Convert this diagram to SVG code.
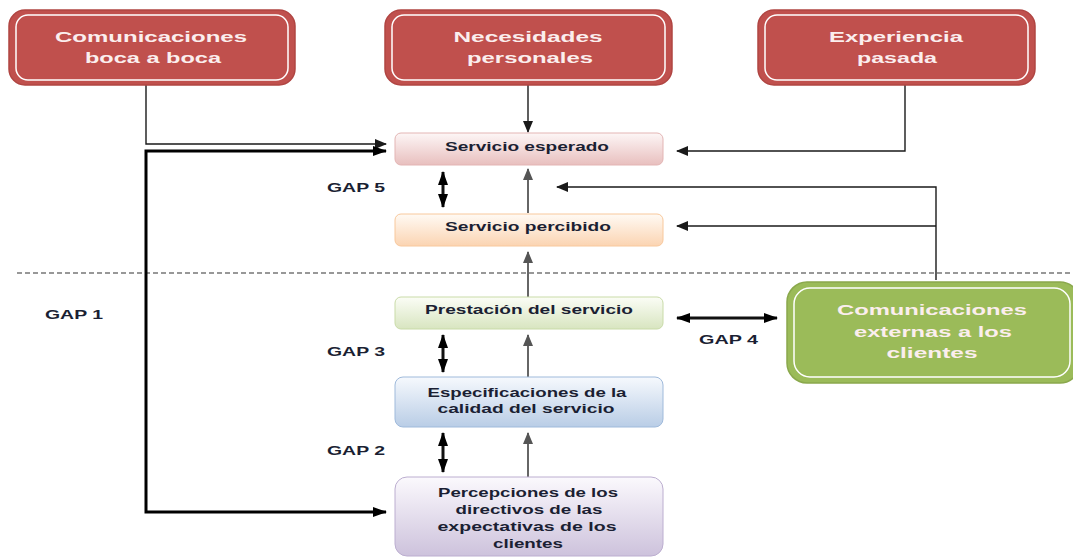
<svg xmlns="http://www.w3.org/2000/svg" width="1073" height="557" viewBox="0 0 1073 557">
<style>
.rb{fill:#c0504d;stroke:#b04542;stroke-width:1.5}
.ri{fill:none;stroke:#ffffff;stroke-width:1.5}
.rt{font-family:"Liberation Sans",Arial,sans-serif;font-weight:bold;font-size:15.5px;fill:#fbeeee;text-anchor:middle}
.mt{font-family:"Liberation Sans",Arial,sans-serif;font-weight:bold;font-size:13.5px;fill:#1b1f33;text-anchor:middle}
.gt{font-family:"Liberation Sans",Arial,sans-serif;font-weight:bold;font-size:13.5px;fill:#1b1f33}
.thin{fill:none;stroke:#1a1a1a;stroke-width:1.4}
.thick{fill:none;stroke:#000;stroke-width:3}
.up{fill:none;stroke:#666;stroke-width:2}
.dbl{fill:none;stroke:#111;stroke-width:3}
</style>
<defs>
<marker id="a1" markerUnits="userSpaceOnUse" markerWidth="12" markerHeight="10" refX="11" refY="5" orient="auto-start-reverse"><path d="M0,0 L12,5 L0,10 Z" fill="#1a1a1a"/></marker>
<marker id="a2" markerUnits="userSpaceOnUse" markerWidth="14" markerHeight="10" refX="13" refY="5" orient="auto-start-reverse"><path d="M0,0 L14,5 L0,10 Z" fill="#000"/></marker>
<marker id="a3" markerUnits="userSpaceOnUse" markerWidth="12" markerHeight="10" refX="11" refY="5" orient="auto-start-reverse"><path d="M0,0 L12,5 L0,10 Z" fill="#555"/></marker>
<linearGradient id="g1" x1="0" y1="0" x2="0" y2="1"><stop offset="0" stop-color="#fdf6f6"/><stop offset="1" stop-color="#e8bfbe"/></linearGradient>
<linearGradient id="g2" x1="0" y1="0" x2="0" y2="1"><stop offset="0" stop-color="#fffaf4"/><stop offset="1" stop-color="#fbd4b2"/></linearGradient>
<linearGradient id="g3" x1="0" y1="0" x2="0" y2="1"><stop offset="0" stop-color="#fbfdf6"/><stop offset="1" stop-color="#d8e5c0"/></linearGradient>
<linearGradient id="g4" x1="0" y1="0" x2="0" y2="1"><stop offset="0" stop-color="#f6f9fd"/><stop offset="1" stop-color="#b9cde6"/></linearGradient>
<linearGradient id="g5" x1="0" y1="0" x2="0" y2="1"><stop offset="0" stop-color="#fbf9fd"/><stop offset="1" stop-color="#cdc2dc"/></linearGradient>
</defs>
<rect width="1073" height="557" fill="#ffffff"/>
<line x1="17" y1="273" x2="1073" y2="273" stroke="#777" stroke-width="1.5" stroke-dasharray="5,3"/>
<g id="connectors">
<path class="thin" d="M146,85 V144 H386" marker-end="url(#a1)"/>
<path class="thick" d="M386,151 H146 V512 H386" marker-start="url(#a2)" marker-end="url(#a2)"/>
<path class="thin" d="M528,85 V132" marker-end="url(#a1)"/>
<path class="thin" d="M905,85 V151 H677" marker-end="url(#a1)"/>
<path class="thin" d="M936,280 V187 H557" marker-end="url(#a1)"/>
<path class="thin" d="M936,226 H677" marker-end="url(#a1)"/>
<path class="up" d="M528,213 V169" marker-end="url(#a3)"/>
<path class="up" d="M528,297 V252" marker-end="url(#a3)"/>
<path class="up" d="M528,377 V335" marker-end="url(#a3)"/>
<path class="up" d="M528,477 V433" marker-end="url(#a3)"/>
<path class="dbl" d="M443,172 V207" marker-start="url(#a2)" marker-end="url(#a2)"/>
<path class="dbl" d="M443,335 V372" marker-start="url(#a2)" marker-end="url(#a2)"/>
<path class="dbl" d="M443,433 V472" marker-start="url(#a2)" marker-end="url(#a2)"/>
<path class="dbl" d="M677,318 H777" stroke-width="2.5" marker-start="url(#a2)" marker-end="url(#a2)"/>
</g>
<g id="boca">
<rect class="rb" x="9" y="10" width="286" height="75" rx="16"/>
<rect class="ri" x="16" y="15" width="272" height="65" rx="12"/>
<text class="rt" x="151" y="42" textLength="192" lengthAdjust="spacingAndGlyphs">Comunicaciones</text>
<text class="rt" x="153" y="63" textLength="136" lengthAdjust="spacingAndGlyphs">boca a boca</text>
</g>
<g id="necesidades">
<rect class="rb" x="385" y="10" width="287" height="75" rx="16"/>
<rect class="ri" x="392" y="15" width="273" height="65" rx="12"/>
<text class="rt" x="528" y="42" textLength="149" lengthAdjust="spacingAndGlyphs">Necesidades</text>
<text class="rt" x="530" y="63" textLength="126" lengthAdjust="spacingAndGlyphs">personales</text>
</g>
<g id="experiencia">
<rect class="rb" x="758" y="10" width="277" height="75" rx="16"/>
<rect class="ri" x="765" y="15" width="263" height="65" rx="12"/>
<text class="rt" x="896" y="42" textLength="134" lengthAdjust="spacingAndGlyphs">Experiencia</text>
<text class="rt" x="897" y="63" textLength="80" lengthAdjust="spacingAndGlyphs">pasada</text>
</g>
<g id="esperado">
<rect x="395" y="133" width="268" height="32" rx="6" fill="url(#g1)" stroke="#e3b5b4" stroke-width="1"/>
<text class="mt" x="527" y="151" textLength="164" lengthAdjust="spacingAndGlyphs">Servicio esperado</text>
</g>
<g id="percibido">
<rect x="395" y="214" width="268" height="32" rx="6" fill="url(#g2)" stroke="#f8c89c" stroke-width="1"/>
<text class="mt" x="528" y="231" textLength="166" lengthAdjust="spacingAndGlyphs">Servicio percibido</text>
</g>
<g id="prestacion">
<rect x="395" y="297" width="268" height="32" rx="6" fill="url(#g3)" stroke="#c9dba8" stroke-width="1"/>
<text class="mt" x="529" y="314" textLength="208" lengthAdjust="spacingAndGlyphs">Prestación del servicio</text>
</g>
<g id="especificaciones">
<rect x="395" y="377" width="268" height="50" rx="8" fill="url(#g4)" stroke="#9fbadb" stroke-width="1"/>
<text class="mt" x="527" y="397" textLength="199" lengthAdjust="spacingAndGlyphs">Especificaciones de la</text>
<text class="mt" x="526" y="413" textLength="177" lengthAdjust="spacingAndGlyphs">calidad del servicio</text>
</g>
<g id="percepciones">
<rect x="395" y="477" width="268" height="79" rx="12" fill="url(#g5)" stroke="#bcaed0" stroke-width="1"/>
<text class="mt" x="528" y="497" textLength="180" lengthAdjust="spacingAndGlyphs">Percepciones de los</text>
<text class="mt" x="529" y="514" textLength="147" lengthAdjust="spacingAndGlyphs">directivos de las</text>
<text class="mt" x="527" y="531" textLength="179" lengthAdjust="spacingAndGlyphs">expectativas de los</text>
<text class="mt" x="528" y="548" textLength="70" lengthAdjust="spacingAndGlyphs">clientes</text>
</g>
<g id="externas">
<rect x="787" y="282" width="293" height="101" rx="20" fill="#9bbb59" stroke="#8aa84c" stroke-width="1.5"/>
<rect x="794" y="288" width="276" height="89" rx="16" fill="none" stroke="#ffffff" stroke-width="1.5"/>
<text class="rt" x="932" y="315" textLength="190" lengthAdjust="spacingAndGlyphs" fill="#f4f8ec">Comunicaciones</text>
<text class="rt" x="933" y="337" textLength="158" lengthAdjust="spacingAndGlyphs">externas a los</text>
<text class="rt" x="932" y="358" textLength="91" lengthAdjust="spacingAndGlyphs">clientes</text>
</g>
<g id="gaps">
<text class="gt" x="45" y="319" textLength="58" lengthAdjust="spacingAndGlyphs">GAP 1</text>
<text class="gt" x="327" y="192" textLength="58" lengthAdjust="spacingAndGlyphs">GAP 5</text>
<text class="gt" x="327" y="356" textLength="58" lengthAdjust="spacingAndGlyphs">GAP 3</text>
<text class="gt" x="327" y="455" textLength="58" lengthAdjust="spacingAndGlyphs">GAP 2</text>
<text class="gt" x="699" y="344" textLength="59" lengthAdjust="spacingAndGlyphs">GAP 4</text>
</g>
</svg>
